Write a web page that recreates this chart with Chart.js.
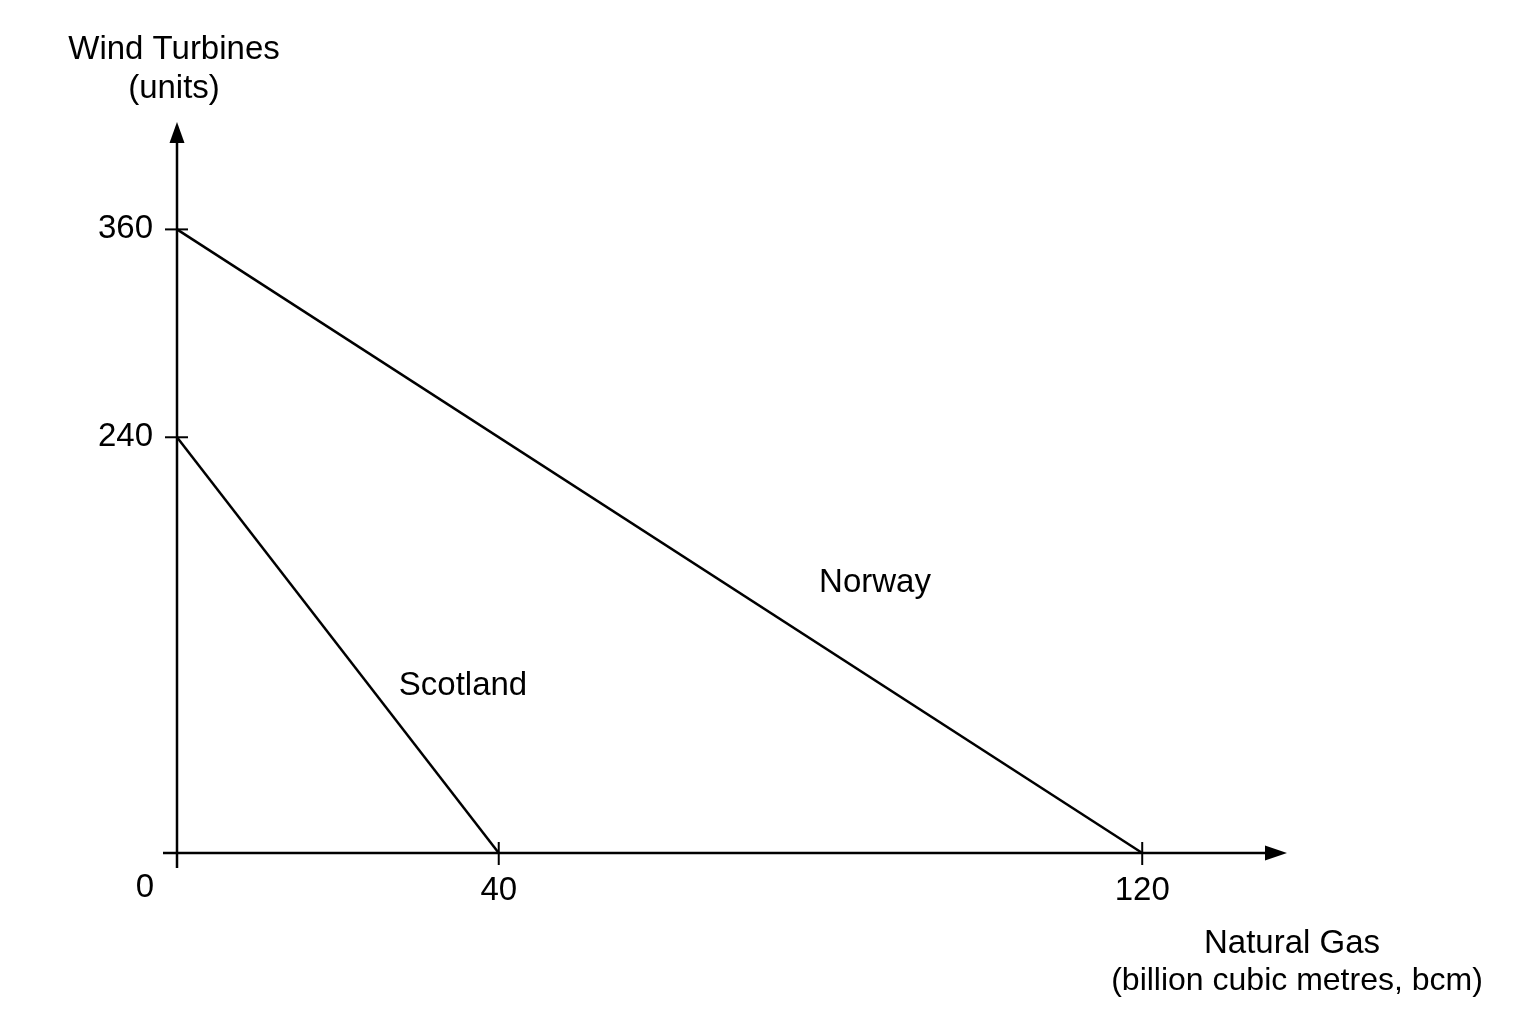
<!DOCTYPE html>
<html>
<head>
<meta charset="utf-8">
<script src="https://cdn.jsdelivr.net/npm/chart.js@4.4.1/dist/chart.umd.min.js"></script>
<style>
  html, body { margin: 0; padding: 0; background: #fff; }
  #ppf { display: block; }
</style>
</head>
<body>
<canvas id="ppf" width="1536" height="1024"></canvas>
<script>
// production possibility frontiers — intercepts
const countries = ["Scotland", "Norway"];
const gasMax = [40, 120];        // bcm when all resources go to gas
const turbineMax = [240, 360];   // units when all resources go to turbines
const xTickValues = [40, 120];
const yTickValues = [240, 360];

const ink = "#000";
const fontFamily = "'Liberation Sans', Arial, Helvetica, sans-serif";
const fontSize = 33;

const datasets = countries.map((name, i) => ({
  label: name,
  data: [
    { x: 0, y: turbineMax[i] },
    { x: gasMax[i], y: 0 },
  ],
  showLine: true,
  borderColor: ink,
  borderWidth: 2.5,
  pointRadius: 0,
  fill: false,
  clip: false,
}));

// axes with arrowheads, crossing ticks and free text labels
const axisDecor = {
  id: "axisDecor",
  afterDraw(chart) {
    const { ctx, chartArea, scales } = chart;
    const xs = scales.x, ys = scales.y;
    const x0 = xs.getPixelForValue(0);
    const y0 = ys.getPixelForValue(0);

    ctx.save();
    ctx.strokeStyle = ink;
    ctx.fillStyle = ink;
    ctx.lineWidth = 2.5;
    ctx.lineCap = "butt";

    // y axis
    ctx.beginPath();
    ctx.moveTo(x0, y0 + 15);
    ctx.lineTo(x0, chartArea.top + 18);
    ctx.stroke();
    ctx.beginPath();
    ctx.moveTo(x0, chartArea.top);
    ctx.lineTo(x0 - 7.5, chartArea.top + 21);
    ctx.lineTo(x0 + 7.5, chartArea.top + 21);
    ctx.closePath();
    ctx.fill();

    // x axis
    ctx.beginPath();
    ctx.moveTo(x0 - 14, y0);
    ctx.lineTo(chartArea.right - 18, y0);
    ctx.stroke();
    ctx.beginPath();
    ctx.moveTo(chartArea.right, y0);
    ctx.lineTo(chartArea.right - 22, y0 - 7.5);
    ctx.lineTo(chartArea.right - 22, y0 + 7.5);
    ctx.closePath();
    ctx.fill();

    // tick marks crossing the axes
    ctx.lineWidth = 2;
    yTickValues.forEach((v) => {
      const py = ys.getPixelForValue(v);
      ctx.beginPath();
      ctx.moveTo(x0 - 12, py);
      ctx.lineTo(x0 + 11, py);
      ctx.stroke();
    });
    xTickValues.forEach((v) => {
      const px = xs.getPixelForValue(v);
      ctx.beginPath();
      ctx.moveTo(px, y0 - 11);
      ctx.lineTo(px, y0 + 12);
      ctx.stroke();
    });

    ctx.font = fontSize + "px " + fontFamily;
    ctx.textBaseline = "middle";

    // origin
    ctx.textAlign = "right";
    ctx.fillText("0", x0 - 23, y0 + 35);

    // axis titles
    ctx.textAlign = "center";
    ctx.textBaseline = "alphabetic";
    ctx.fillText("Wind Turbines", x0 - 3, 59);
    ctx.fillText("(units)", x0 - 3, 98);
    ctx.fillText("Natural Gas", 1292, 953);
    ctx.font = "32px " + fontFamily;
    ctx.fillText("(billion cubic metres, bcm)", 1297, 990);
    ctx.font = fontSize + "px " + fontFamily;

    // curve labels
    ctx.textBaseline = "middle";
    ctx.fillText(countries[1], 875, 583);
    ctx.fillText(countries[0], 463, 686);

    ctx.restore();
  },
};

new Chart(document.getElementById("ppf"), {
  type: "scatter",
  data: { datasets },
  options: {
    responsive: false,
    devicePixelRatio: 1,
    animation: false,
    layout: { padding: { top: 122, right: 249, bottom: 111, left: 0 } },
    plugins: {
      legend: { display: false },
      tooltip: { enabled: false },
    },
    scales: {
      x: {
        type: "linear",
        min: 0,
        max: 138,
        afterBuildTicks: (scale) => { scale.ticks = xTickValues.map((v) => ({ value: v })); },
        afterFit: (scale) => { scale.height = 60; },
        grid: { display: false },
        border: { display: false },
        ticks: {
          color: ink,
          padding: 10,
          font: { family: fontFamily, size: fontSize },
        },
      },
      y: {
        type: "linear",
        min: 0,
        max: 422,
        afterBuildTicks: (scale) => { scale.ticks = yTickValues.map((v) => ({ value: v })); },
        afterFit: (scale) => { scale.width = 177; },
        grid: { display: false },
        border: { display: false },
        ticks: {
          color: ink,
          padding: 16,
          font: { family: fontFamily, size: fontSize },
        },
      },
    },
  },
  plugins: [axisDecor],
});
</script>
</body>
</html>
